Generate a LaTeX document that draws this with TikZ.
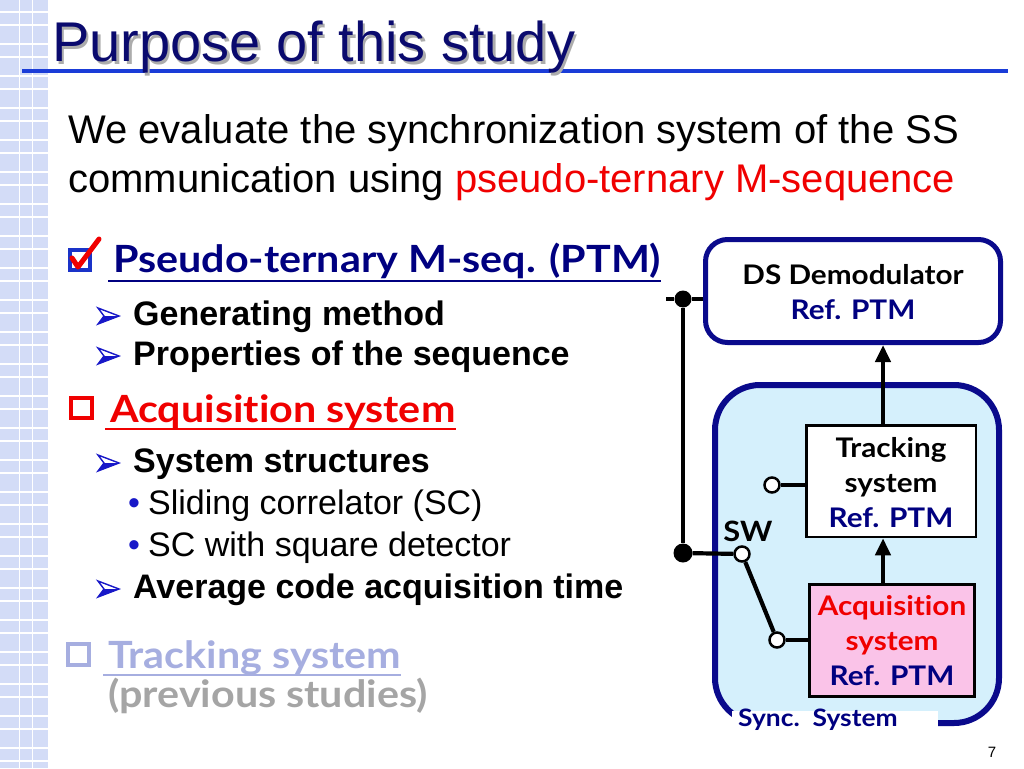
\documentclass[tikz,border=0pt]{standalone}
\usepackage{fontspec}
\setmainfont{Liberation Sans}
\newfontfamily\gill[FakeStretch=1.1, Ligatures=NoCommon]{Lato}
\usetikzlibrary{arrows.meta}
\definecolor{navy}{HTML}{000080}
\definecolor{titlenavy}{HTML}{0A0A6E}
\definecolor{boxnavy}{HTML}{0A0A8C}
\definecolor{lineblue}{HTML}{1A3CD8}
\definecolor{chkblue}{HTML}{1A33C8}
\definecolor{syncfill}{HTML}{D5F0FC}
\definecolor{pinkfill}{HTML}{FAC3E8}
\definecolor{gridblue}{HTML}{D3DCF7}
\definecolor{lav}{HTML}{A6AEE0}
\definecolor{grayt}{HTML}{A5A5A5}
\definecolor{redt}{HTML}{F00000}
\definecolor{bulletblue}{HTML}{1818C8}
\tikzset{
  bodytext/.style={anchor=base west, inner sep=0, font=\fontsize{40}{48}\selectfont},
  subitem/.style={anchor=base west, inner sep=0, font=\fontsize{34}{40}\selectfont\bfseries},
  subsub/.style={anchor=base west, inner sep=0, font=\fontsize{34}{40}\selectfont},
  dotbullet/.style={anchor=base west, inner sep=0, text=bulletblue, font=\fontsize{34}{40}\selectfont},
  heading/.style={anchor=base west, inner sep=0, font=\gill\bfseries\fontsize{37.5}{44}\selectfont},
  boxtext/.style={align=center, inner sep=0, font=\gill\bfseries\fontsize{27}{35}\selectfont},
  wire/.style={line width=4.2, black},
  opencirc/.style={circle, draw=black, line width=2.5, fill=white, minimum size=15, inner sep=0},
  blackdot/.style={circle, fill=black, minimum size=18, inner sep=0},
  upar/.style={wire, -{Triangle[length=17pt,width=15pt]}},
  arrowhd/.pic={
    \fill[bulletblue] (6,0) -- (21,0) -- (0,8) -- cycle;
    \draw[bulletblue, line width=1.4, line join=miter] (0,-8) -- (21,0) -- (0,8) -- (6,0) -- cycle;
    \draw[bulletblue, line width=1] (6,0) -- (21,0);
  }
}
\begin{document}
\begin{tikzpicture}[x=1pt,y=-1pt]
\useasboundingbox (0,0) rectangle (1024,768);
\fill[white] (0,0) rectangle (1024,768);
% left grid strip
\fill[gridblue] (0,0) rectangle (48,768);
\foreach \k in {0,...,23}{
  \draw[white, line width=1.3] (0,12+32*\k) -- (48,12+32*\k);
  \draw[white, line width=1.3] (0,25+32*\k) -- (48,25+32*\k);
}
\draw[white, line width=1.3] (19.5,0) -- (19.5,768);
\draw[white, line width=1.3] (32.5,0) -- (32.5,768);
% title
\draw[lineblue, line width=4] (22,71) -- (1008,71);
\node[anchor=base west, inner sep=0, text=gray!65, font=\fontsize{56}{60}\selectfont] (titleshadow) at (54.5,64.5) {Purpose of this study};
\node[anchor=base west, inner sep=0, text=titlenavy, font=\fontsize{56}{60}\selectfont] (title) at (52,62) {Purpose of this study};
% body
\node[bodytext] (l1) at (68,143) {We evaluate the synchronization system of the SS};
\node[bodytext] (l2) at (68,192) {communication using \textcolor{redt}{pseudo-ternary M-sequence}};
% heading 1
\fill[white] (70,250) rectangle (90,270);
\draw[chkblue, line width=4] (70,250) rectangle (90,270);
\draw[redt, line width=5, line cap=round, line join=round] (72,258) -- (78,267) -- (99,239);
\node[heading, text=navy] (h1) at (113,272) {Pseudo-ternary M-seq. (PTM)};
\draw[navy, line width=2] (108,281) -- (h1.east |- 0,281);
\pic at (98,316) {arrowhd};
\node[subitem] (s1) at (133,325) {Generating method};
\pic at (98,356) {arrowhd};
\node[subitem] (s2) at (133,365) {Properties of the sequence};
% heading 2
\draw[redt, line width=3.5] (71,398) rectangle (92,418);
\node[heading, text=redt] (h2) at (110,422) {Acquisition system};
\draw[redt, line width=2] (105,429) -- (h2.east |- 0,429);
\pic at (98,463) {arrowhd};
\node[subitem] (s3) at (133,472) {System structures};
\node[dotbullet] (b4) at (128,514) {•};
\node[subsub] (s4) at (148,514) {Sliding correlator (SC)};
\node[dotbullet] (b5) at (128,556) {•};
\node[subsub] (s5) at (148,556) {SC with square detector};
\pic at (98,589) {arrowhd};
\node[subitem] (s6) at (133,598) {Average code acquisition time};
% heading 3
\draw[lav, line width=3.5] (68,644) rectangle (89,665);
\node[heading, text=lav] (h3) at (108,668) {Tracking system};
\draw[lav, line width=2] (103,675) -- (h3.east |- 0,675);
\node[heading, text=grayt] (h4) at (108,707) {(previous studies)};
% right diagram
\node[draw=boxnavy, line width=5, rounded corners=22, fill=white, minimum width=295, minimum height=103] (ds) at (853,291) {};
\node[boxtext] (dstext) at (853,292) {DS Demodulator\\\textcolor{navy}{Ref. PTM}};
\node[draw=boxnavy, line width=6, rounded corners=45, fill=syncfill, minimum width=284, minimum height=338] (sync) at (857,554) {};
\fill[white] (732,711) rectangle (938,736);
\node[anchor=west, inner sep=0, text=navy, font=\gill\bfseries\fontsize{24}{26}\selectfont] (synclabel) at (738,720) {Sync.~~System};
\node[draw=black, line width=2.5, fill=white, minimum width=169.5, minimum height=111.5] (trk) at (891.25,481.25) {};
\node[boxtext] (trktext) at (891,483) {Tracking\\system\\\textcolor{navy}{Ref. PTM}};
\node[draw=black, line width=2.5, fill=pinkfill, minimum width=165, minimum height=112] (acq) at (892,640.5) {};
\node[boxtext, text=redt] (acqtext) at (892,641) {Acquisition\\system\\\textcolor{navy}{Ref. PTM}};
\coordinate (arrx) at (883,0);
\draw[upar] (trk.north -| arrx) -- (ds.south -| arrx);
\draw[upar] (acq.north -| arrx) -- (trk.south -| arrx);
\node[blackdot, minimum size=17] (d1) at (683,299) {};
\node[blackdot, minimum size=19] (d2) at (683,553) {};
\coordinate (stub) at (666,299);
\node[opencirc] (c1) at (772,485) {};
\node[opencirc] (sw1) at (742,554) {};
\node[opencirc] (c3) at (777,640) {};
\draw[wire] (stub) -- (d1);
\draw[wire] (d1) -- (d1 -| ds.west);
\draw[wire] (d1) -- (d2);
\draw[wire] (d2) -- (sw1);
\draw[wire] (sw1) -- (c3);
\draw[wire] (c1) -- (c1 -| trk.west);
\draw[wire] (c3) -- (c3 -| acq.west);
\node[inner sep=0, font=\gill\bfseries\fontsize{28}{30}\selectfont] (swl) at (748,531) {SW};
\node[inner sep=0, font=\fontsize{15}{18}\selectfont] (pg) at (992,752) {7};
\end{tikzpicture}
\end{document}
